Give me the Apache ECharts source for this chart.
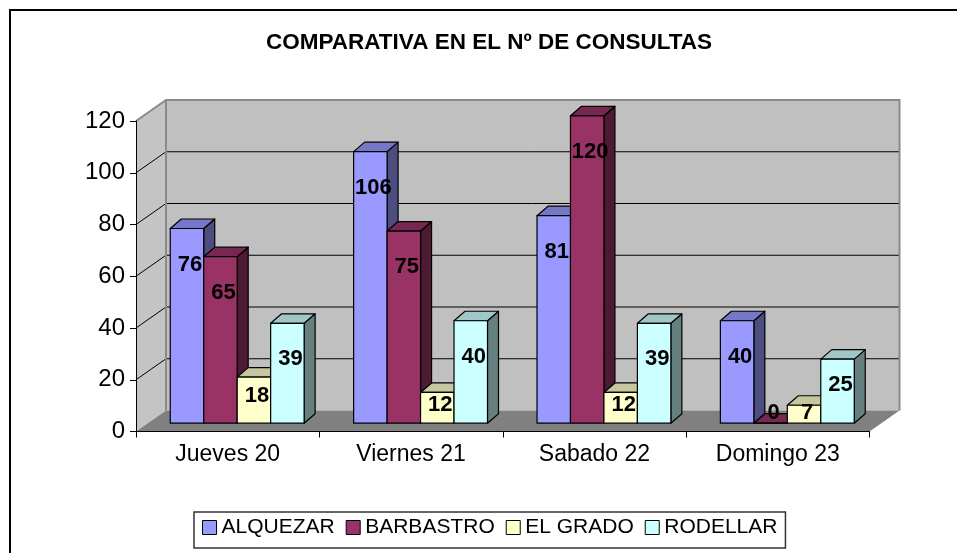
<!DOCTYPE html>
<html>
<head>
<meta charset="utf-8">
<script src="https://cdn.jsdelivr.net/npm/echarts@6/dist/echarts.min.js"></script>
<style>
  html, body { margin: 0; padding: 0; background: #fff; }
  #chart { width: 957px; height: 553px; }
</style>
</head>
<body>
<div id="chart"></div>
<script>
// ---- data ----
const titleText = 'COMPARATIVA EN EL Nº DE CONSULTAS';
const days = ['Jueves 20', 'Viernes 21', 'Sabado 22', 'Domingo 23'];
const seriesNames = ['ALQUEZAR', 'BARBASTRO', 'EL GRADO', 'RODELLAR'];
const alquezar  = [76, 106, 81, 40];
const barbastro = [65, 75, 120, 0];
const elGrado   = [18, 12, 12, 7];
const rodellar  = [39, 40, 39, 25];
const yMin = 0, yMax = 120, yStep = 20;

// ---- styling ----
const FONT = 'Liberation Sans, Arial, sans-serif';
const frontColors = ['#9999FF', '#993366', '#FFFFCC', '#CCFFFF'];
const DX = 30, DY = -21;          // wall depth
const OFF_X = 9.5, OFF_Y = -8.3;  // bars' front face inside the depth
const BDX = 11, BDY = -9.5;       // bar depth
const BAR_FRAC = 0.1825;
const K = 0.99;

function shade(hex, f) {
  const n = parseInt(hex.slice(1), 16);
  const r = Math.round(((n >> 16) & 255) * f);
  const g = Math.round(((n >> 8) & 255) * f);
  const b = Math.round((n & 255) * f);
  return 'rgb(' + r + ',' + g + ',' + b + ')';
}

function renderWalls(params, api) {
  const cs = params.coordSys;
  const x0 = cs.x, x1 = cs.x + cs.width, yT = cs.y, yB = cs.y + cs.height;
  const ch = [];
  ch.push({ type: 'polygon', shape: { points: [[x0, yT], [x0 + DX, yT + DY], [x0 + DX, yB + DY], [x0, yB]] },
            style: { fill: '#C4C4C4' } });
  ch.push({ type: 'rect', shape: { x: x0 + DX, y: yT + DY, width: cs.width, height: cs.height },
            style: { fill: '#C0C0C0' } });
  ch.push({ type: 'polygon', shape: { points: [[x0, yB], [x0 + DX, yB + DY], [x1 + DX, yB + DY], [x1, yB]] },
            style: { fill: '#808080' } });
  for (let v = yMin + yStep; v < yMax; v += yStep) {
    const y = api.coord([0, v])[1];
    ch.push({ type: 'line', shape: { x1: x0 + DX, y1: y + DY, x2: x1 + DX, y2: y + DY },
              style: { stroke: '#000', lineWidth: 1 } });
    ch.push({ type: 'line', shape: { x1: x0, y1: y, x2: x0 + DX, y2: y + DY },
              style: { stroke: '#000', lineWidth: 1 } });
  }
  ch.push({ type: 'polyline', shape: { points: [[x0, yT], [x0 + DX, yT + DY], [x1 + DX, yT + DY], [x1 + DX, yB + DY]] },
            style: { stroke: '#8A8A8A', lineWidth: 2, fill: null } });
  ch.push({ type: 'line', shape: { x1: x0 + DX, y1: yT + DY, x2: x0 + DX, y2: yB + DY },
            style: { stroke: '#8A8A8A', lineWidth: 2 } });
  return { type: 'group', children: ch };
}

function makeBarRender(si) {
  const front = frontColors[si];
  const top = shade(front, 0.78);
  const side = shade(front, 0.5);
  return function (params, api) {
    const ci = api.value(0), v = api.value(1);
    const c0 = api.coord([ci, 0]);
    const cv = api.coord([ci, v]);
    const band = api.size([1, 0])[0];
    const bw = band * BAR_FRAC;
    const L = c0[0] - 2 * bw + si * bw + OFF_X;
    const base = c0[1] + OFF_Y;
    const T = base - (c0[1] - cv[1]) * K;
    const h = base - T;
    const st = { stroke: '#000', lineWidth: 1.2, lineJoin: 'round' };
    let ly = T + Math.min(36, h * 0.4);
    ly = Math.min(ly, base - 10);
    return {
      type: 'group',
      children: [
        { type: 'polygon', shape: { points: [[L + bw, T], [L + bw + BDX, T + BDY], [L + bw + BDX, base + BDY], [L + bw, base]] },
          style: Object.assign({ fill: side }, st) },
        { type: 'polygon', shape: { points: [[L, T], [L + BDX, T + BDY], [L + bw + BDX, T + BDY], [L + bw, T]] },
          style: Object.assign({ fill: top }, st) },
        { type: 'rect', shape: { x: L, y: T, width: bw, height: h },
          style: Object.assign({ fill: front }, st) },
        { type: 'text', z2: 100, x: L + bw / 2 + 3, y: ly,
          style: { text: String(v), fill: '#000', fontSize: 22, fontWeight: 'bold', fontFamily: FONT,
                   align: 'center', verticalAlign: 'middle' } }
      ]
    };
  };
}

const allValues = [alquezar, barbastro, elGrado, rodellar];

const series = [{
  type: 'custom', name: '_walls', z: 1, silent: true, clip: false,
  renderItem: renderWalls, data: [[0, 0]]
}];
allValues.forEach(function (vals, si) {
  series.push({
    type: 'custom', name: seriesNames[si], z: 2, clip: false,
    itemStyle: { color: frontColors[si] },
    renderItem: makeBarRender(si),
    data: vals.map(function (v, i) { return [i, v]; })
  });
});

const chart = echarts.init(document.getElementById('chart'), null, { renderer: 'canvas' });
chart.setOption({
  backgroundColor: '#fff',
  animation: false,
  graphic: [
    { type: 'rect', shape: { x: 10, y: 10, width: 980, height: 600 },
      style: { fill: null, stroke: '#000', lineWidth: 2 }, z: -1 },
    { type: 'text', x: 489, y: 43,
      style: { text: titleText, fontSize: 22.5, fontWeight: 'bold', fontFamily: FONT, fill: '#000',
               align: 'center', verticalAlign: 'middle' } }
  ],
  grid: { left: 136, right: 87.5, top: 121, bottom: 121.5, containLabel: false },
  xAxis: {
    type: 'category', data: days, z: 5,
    axisLine: { lineStyle: { color: '#000', width: 1 } },
    axisTick: { show: true, length: 6, lineStyle: { color: '#000' } },
    axisLabel: { fontSize: 23, color: '#000', fontFamily: FONT, margin: 12 },
    splitLine: { show: false }
  },
  yAxis: {
    type: 'value', min: yMin, max: yMax, interval: yStep, z: 5,
    axisLine: { show: true, lineStyle: { color: '#000', width: 1 } },
    axisTick: { show: true, length: 6, lineStyle: { color: '#000' } },
    axisLabel: { fontSize: 24, color: '#000', fontFamily: FONT, margin: 11 },
    splitLine: { show: false }
  },
  legend: {
    data: seriesNames, left: 194, top: 512, orient: 'horizontal',
    icon: 'rect', itemWidth: 14, itemHeight: 14, itemGap: 11,
    padding: [5, 8, 10, 8],
    borderColor: '#333', borderWidth: 1.5,
    itemStyle: { borderColor: '#000', borderWidth: 1 },
    textStyle: { fontSize: 21, color: '#000', fontFamily: FONT }
  },
  series: series
});
</script>
</body>
</html>
